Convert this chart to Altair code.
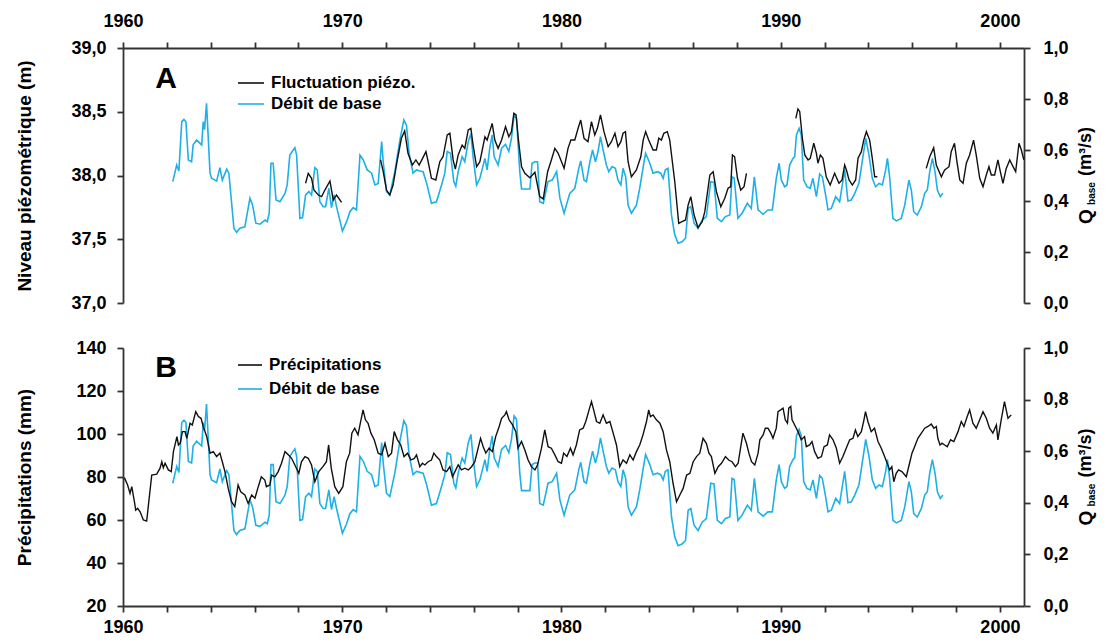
import altair as alt
import pandas as pd

# ---------------- data ----------------
# Débit de base Q_base (m3/s): (decimal year, value)
baseflow = [
    (1962.27, 0.476), (1962.45, 0.541), (1962.55, 0.518), (1962.68, 0.711), (1962.78, 0.72),
    (1962.87, 0.711), (1962.98, 0.561), (1963.13, 0.554), (1963.20, 0.620), (1963.36, 0.639),
    (1963.59, 0.620), (1963.66, 0.711), (1963.72, 0.680), (1963.81, 0.783), (1963.97, 0.509),
    (1964.04, 0.489), (1964.27, 0.478), (1964.42, 0.531), (1964.53, 0.482), (1964.73, 0.525),
    (1964.83, 0.509), (1965.06, 0.293), (1965.18, 0.277), (1965.33, 0.293), (1965.56, 0.299),
    (1965.79, 0.411), (1965.91, 0.384), (1966.06, 0.313), (1966.25, 0.309), (1966.48, 0.325),
    (1966.58, 0.319), (1966.67, 0.352), (1966.75, 0.548), (1966.85, 0.548), (1966.98, 0.404),
    (1967.16, 0.397), (1967.39, 0.430), (1967.49, 0.463), (1967.61, 0.580), (1967.84, 0.609),
    (1967.92, 0.580), (1968.07, 0.332), (1968.19, 0.335), (1968.33, 0.424), (1968.48, 0.437),
    (1968.60, 0.424), (1968.75, 0.531), (1968.86, 0.522), (1968.98, 0.397), (1969.13, 0.378),
    (1969.24, 0.378), (1969.39, 0.450), (1969.51, 0.374), (1969.63, 0.424), (1969.74, 0.378),
    (1970.01, 0.282), (1970.20, 0.319), (1970.35, 0.358), (1970.50, 0.374), (1970.65, 0.365),
    (1970.81, 0.580), (1970.96, 0.561), (1971.14, 0.522), (1971.34, 0.509), (1971.49, 0.463),
    (1971.64, 0.469), (1971.80, 0.633), (1971.87, 0.554), (1972.02, 0.437), (1972.17, 0.424),
    (1972.40, 0.515), (1972.63, 0.639), (1972.81, 0.718), (1972.93, 0.698), (1973.05, 0.587),
    (1973.23, 0.509), (1973.39, 0.522), (1973.54, 0.518), (1973.69, 0.515), (1973.85, 0.470),
    (1974.07, 0.391), (1974.30, 0.397), (1974.53, 0.463), (1974.68, 0.509), (1974.79, 0.594),
    (1974.94, 0.587), (1975.09, 0.476), (1975.18, 0.458), (1975.29, 0.515), (1975.47, 0.574),
    (1975.59, 0.554), (1975.75, 0.633), (1975.87, 0.665), (1975.97, 0.574), (1976.13, 0.463),
    (1976.28, 0.489), (1976.51, 0.567), (1976.61, 0.522), (1976.73, 0.607), (1976.84, 0.659),
    (1976.93, 0.574), (1977.11, 0.541), (1977.27, 0.607), (1977.45, 0.622), (1977.60, 0.594),
    (1977.72, 0.646), (1977.84, 0.737), (1977.95, 0.724), (1978.10, 0.515), (1978.18, 0.447),
    (1978.56, 0.447), (1978.66, 0.548), (1978.79, 0.554), (1978.91, 0.554), (1979.01, 0.397),
    (1979.17, 0.391), (1979.39, 0.476), (1979.58, 0.482), (1979.78, 0.515), (1979.93, 0.411),
    (1980.12, 0.352), (1980.38, 0.430), (1980.61, 0.450), (1980.79, 0.528), (1980.88, 0.557),
    (1981.03, 0.482), (1981.14, 0.476), (1981.30, 0.554), (1981.42, 0.600), (1981.55, 0.554),
    (1981.67, 0.594), (1981.78, 0.652), (1981.90, 0.600), (1982.05, 0.541), (1982.16, 0.515),
    (1982.31, 0.535), (1982.46, 0.528), (1982.58, 0.482), (1982.71, 0.463), (1982.81, 0.528),
    (1982.93, 0.495), (1983.04, 0.384), (1983.19, 0.352), (1983.42, 0.384), (1983.57, 0.450),
    (1983.77, 0.554), (1983.84, 0.587), (1984.03, 0.548), (1984.18, 0.509), (1984.38, 0.515),
    (1984.53, 0.509), (1984.64, 0.489), (1984.74, 0.522), (1984.86, 0.528), (1985.02, 0.345),
    (1985.17, 0.267), (1985.32, 0.234), (1985.50, 0.240), (1985.66, 0.254), (1985.78, 0.371),
    (1985.90, 0.378), (1986.05, 0.313), (1986.23, 0.293), (1986.42, 0.325), (1986.61, 0.339),
    (1986.81, 0.476), (1986.96, 0.473), (1987.11, 0.332), (1987.30, 0.319), (1987.48, 0.339),
    (1987.68, 0.345), (1987.78, 0.495), (1987.88, 0.490), (1988.05, 0.332), (1988.24, 0.352),
    (1988.48, 0.391), (1988.66, 0.371), (1988.80, 0.495), (1988.97, 0.365), (1989.20, 0.348),
    (1989.42, 0.365), (1989.62, 0.365), (1989.80, 0.489), (1989.93, 0.548), (1990.03, 0.482),
    (1990.18, 0.456), (1990.29, 0.463), (1990.41, 0.541), (1990.56, 0.567), (1990.64, 0.574),
    (1990.72, 0.659), (1990.84, 0.685), (1990.94, 0.659), (1991.05, 0.482), (1991.20, 0.456),
    (1991.35, 0.450), (1991.47, 0.489), (1991.63, 0.417), (1991.78, 0.506), (1991.90, 0.495),
    (1992.05, 0.424), (1992.16, 0.365), (1992.31, 0.371), (1992.51, 0.417), (1992.69, 0.397),
    (1992.92, 0.522), (1993.07, 0.400), (1993.22, 0.404), (1993.38, 0.430), (1993.57, 0.469),
    (1993.72, 0.554), (1993.88, 0.646), (1994.03, 0.580), (1994.18, 0.489), (1994.33, 0.456),
    (1994.49, 0.469), (1994.64, 0.463), (1994.79, 0.522), (1994.87, 0.567), (1994.97, 0.495),
    (1995.12, 0.332), (1995.28, 0.322), (1995.50, 0.332), (1995.66, 0.384), (1995.85, 0.482),
    (1995.96, 0.443), (1996.07, 0.358), (1996.23, 0.345), (1996.42, 0.378), (1996.57, 0.430),
    (1996.69, 0.443), (1996.80, 0.515), (1996.92, 0.567), (1997.04, 0.515), (1997.15, 0.443),
    (1997.28, 0.417), (1997.40, 0.430),
]

# Fluctuation piézométrique (m), four recorded periods
piezo_1968 = [
    (1968.33, 37.939), (1968.45, 38.017), (1968.60, 37.978), (1968.71, 37.886), (1968.91, 37.847),
    (1969.06, 37.834), (1969.21, 37.886), (1969.44, 37.957), (1969.59, 37.808), (1969.74, 37.847),
    (1969.97, 37.790),
]
piezo_1971 = [
    (1971.75, 38.122), (1971.87, 38.030), (1972.02, 37.886), (1972.17, 37.847), (1972.32, 37.925),
    (1972.50, 38.108), (1972.70, 38.292), (1972.85, 38.349), (1973.00, 38.174), (1973.20, 38.082),
    (1973.36, 38.122), (1973.51, 38.082), (1973.82, 38.187), (1973.92, 38.108), (1974.07, 37.978),
    (1974.27, 37.965), (1974.45, 38.108), (1974.60, 38.147), (1974.79, 38.318), (1974.91, 38.331),
    (1975.06, 38.122), (1975.16, 38.050), (1975.29, 38.161), (1975.47, 38.239), (1975.59, 38.213),
    (1975.75, 38.357), (1975.87, 38.370), (1975.97, 38.239), (1976.13, 38.069), (1976.28, 38.108),
    (1976.51, 38.304), (1976.61, 38.278), (1976.84, 38.409), (1976.96, 38.278), (1977.11, 38.213),
    (1977.27, 38.278), (1977.45, 38.383), (1977.60, 38.304), (1977.72, 38.344), (1977.83, 38.488),
    (1977.93, 38.475), (1978.03, 38.292), (1978.18, 38.069), (1978.33, 38.017), (1978.56, 37.983),
    (1978.79, 38.025), (1979.01, 37.834), (1979.17, 37.816), (1979.37, 38.030), (1979.54, 38.122),
    (1979.70, 38.213), (1979.85, 38.174), (1980.12, 38.056), (1980.30, 38.213), (1980.43, 38.278),
    (1980.61, 38.278), (1980.76, 38.370), (1980.88, 38.435), (1981.03, 38.292), (1981.21, 38.265),
    (1981.37, 38.422), (1981.52, 38.318), (1981.64, 38.370), (1981.78, 38.475), (1981.94, 38.344),
    (1982.13, 38.226), (1982.28, 38.265), (1982.44, 38.331), (1982.58, 38.226), (1982.71, 38.265),
    (1982.81, 38.331), (1982.92, 38.344), (1983.04, 38.108), (1983.19, 37.990), (1983.42, 38.043),
    (1983.62, 38.147), (1983.73, 38.278), (1983.84, 38.344), (1983.98, 38.278), (1984.18, 38.200),
    (1984.33, 38.200), (1984.44, 38.292), (1984.56, 38.278), (1984.67, 38.331), (1984.83, 38.344),
    (1984.94, 38.278), (1985.17, 37.951), (1985.35, 37.625), (1985.50, 37.638), (1985.66, 37.651),
    (1985.78, 37.769), (1985.90, 37.834), (1986.05, 37.690), (1986.23, 37.591), (1986.42, 37.638),
    (1986.54, 37.716), (1986.77, 38.004), (1986.92, 38.030), (1987.07, 37.873), (1987.27, 37.755),
    (1987.45, 37.821), (1987.60, 37.900), (1987.72, 37.912), (1987.80, 38.161), (1987.90, 38.147),
    (1988.03, 37.978), (1988.18, 37.886), (1988.33, 37.912), (1988.44, 38.017),
]
piezo_1990 = [
    (1990.69, 38.448), (1990.79, 38.522), (1990.87, 38.500), (1990.99, 38.292), (1991.10, 38.161),
    (1991.25, 38.122), (1991.35, 38.135), (1991.51, 38.253), (1991.63, 38.174), (1991.70, 38.096),
    (1991.81, 38.161), (1991.93, 38.135), (1992.08, 37.990), (1992.26, 37.925), (1992.46, 38.017),
    (1992.66, 37.939), (1992.80, 37.965), (1992.92, 38.082), (1993.00, 38.043), (1993.12, 37.965),
    (1993.27, 37.925), (1993.42, 37.965), (1993.53, 38.135), (1993.68, 38.187), (1993.79, 38.278),
    (1993.91, 38.344), (1994.06, 38.278), (1994.18, 38.135), (1994.29, 37.990), (1994.41, 37.990),
]
piezo_1996 = [
    (1996.64, 38.056), (1996.80, 38.147), (1996.98, 38.218), (1997.10, 38.082), (1997.33, 37.990),
    (1997.48, 38.043), (1997.68, 38.069), (1997.78, 38.187), (1997.93, 38.253), (1998.04, 38.108),
    (1998.17, 37.965), (1998.32, 37.939), (1998.47, 38.096), (1998.62, 38.161), (1998.80, 38.278),
    (1998.92, 38.161), (1999.08, 37.978), (1999.23, 37.912), (1999.38, 38.004), (1999.50, 38.069),
    (1999.61, 38.004), (1999.76, 38.004), (1999.91, 38.122), (2000.02, 38.030), (2000.14, 37.939),
    (2000.29, 38.056), (2000.45, 38.122), (2000.60, 38.069), (2000.72, 38.030), (2000.87, 38.253),
    (2000.98, 38.200), (2001.09, 38.122),
]

# Précipitations (mm)
precipitation = [
    (1960.06, 79.7), (1960.21, 76.3), (1960.32, 72.4), (1960.40, 75.5), (1960.52, 68.5),
    (1960.58, 64.6), (1960.67, 65.4), (1960.78, 63.8), (1960.93, 60.0), (1961.08, 59.5),
    (1961.16, 66.9), (1961.31, 80.9), (1961.54, 81.3), (1961.69, 84.1), (1961.77, 87.1),
    (1961.84, 84.3), (1961.92, 86.4), (1962.07, 83.3), (1962.20, 82.5), (1962.30, 91.8),
    (1962.46, 98.8), (1962.53, 94.9), (1962.61, 95.7), (1962.71, 101.1), (1962.83, 101.1),
    (1962.91, 98.0), (1963.06, 105.0), (1963.16, 104.2), (1963.32, 110.4), (1963.44, 108.1),
    (1963.56, 107.3), (1963.66, 103.5), (1963.82, 98.8), (1963.97, 91.1), (1964.12, 91.8),
    (1964.27, 89.5), (1964.42, 91.1), (1964.53, 87.1), (1964.65, 82.5), (1964.80, 74.7),
    (1964.95, 68.5), (1965.10, 66.2), (1965.25, 76.3), (1965.37, 73.1), (1965.56, 71.6),
    (1965.71, 67.7), (1965.87, 71.6), (1966.02, 70.1), (1966.17, 75.5), (1966.31, 80.1),
    (1966.47, 78.6), (1966.54, 75.5), (1966.70, 76.3), (1966.78, 80.9), (1966.93, 80.1),
    (1967.08, 82.5), (1967.23, 86.4), (1967.39, 91.8), (1967.54, 90.3), (1967.69, 88.7),
    (1967.84, 85.6), (1968.02, 81.7), (1968.14, 87.1), (1968.30, 89.5), (1968.45, 88.7),
    (1968.60, 85.6), (1968.75, 77.8), (1968.93, 82.5), (1969.12, 84.8), (1969.28, 87.1),
    (1969.38, 94.9), (1969.50, 84.1), (1969.66, 75.5), (1969.84, 72.4), (1970.03, 75.5),
    (1970.19, 87.1), (1970.34, 91.1), (1970.44, 100.4), (1970.57, 102.7), (1970.72, 99.6),
    (1970.84, 105.8), (1970.95, 111.2), (1971.06, 106.6), (1971.18, 105.0), (1971.31, 100.4),
    (1971.46, 97.3), (1971.64, 91.1), (1971.80, 90.3), (1971.95, 95.7), (1972.10, 89.5),
    (1972.25, 91.1), (1972.37, 101.1), (1972.52, 97.3), (1972.67, 94.9), (1972.82, 89.5),
    (1972.98, 91.1), (1973.13, 88.0), (1973.28, 88.5), (1973.39, 90.3), (1973.54, 84.8),
    (1973.66, 86.4), (1973.77, 85.6), (1973.92, 87.1), (1974.07, 87.9), (1974.18, 91.1),
    (1974.30, 89.5), (1974.45, 87.9), (1974.60, 83.3), (1974.76, 82.5), (1974.91, 84.8),
    (1975.03, 80.1), (1975.18, 83.3), (1975.29, 85.6), (1975.44, 83.3), (1975.59, 84.1),
    (1975.75, 83.3), (1975.90, 84.8), (1976.05, 87.1), (1976.20, 93.4), (1976.31, 98.0),
    (1976.43, 94.1), (1976.55, 91.1), (1976.70, 93.4), (1976.85, 91.8), (1977.00, 98.8),
    (1977.16, 103.5), (1977.27, 107.3), (1977.42, 108.9), (1977.49, 110.4), (1977.61, 106.6),
    (1977.77, 104.2), (1977.92, 101.1), (1978.02, 93.4), (1978.18, 96.5), (1978.33, 92.6),
    (1978.48, 87.9), (1978.63, 84.8), (1978.79, 83.3), (1978.91, 85.6), (1979.09, 93.4),
    (1979.24, 101.9), (1979.39, 94.1), (1979.54, 93.4), (1979.70, 90.3), (1979.85, 87.1),
    (1980.00, 86.4), (1980.10, 91.1), (1980.25, 89.5), (1980.41, 93.4), (1980.53, 90.3),
    (1980.68, 94.9), (1980.83, 101.9), (1980.99, 102.7), (1981.11, 105.8), (1981.26, 111.2),
    (1981.37, 115.1), (1981.47, 111.2), (1981.60, 105.8), (1981.75, 105.0), (1981.90, 108.9),
    (1982.05, 105.0), (1982.21, 105.8), (1982.36, 100.4), (1982.51, 94.9), (1982.66, 84.8),
    (1982.81, 87.9), (1982.97, 86.4), (1983.12, 90.3), (1983.27, 87.9), (1983.42, 91.8),
    (1983.57, 94.9), (1983.72, 99.6), (1983.88, 105.8), (1983.98, 111.2), (1984.06, 108.1),
    (1984.18, 108.9), (1984.33, 106.6), (1984.49, 105.0), (1984.64, 101.1), (1984.79, 92.6),
    (1984.94, 87.1), (1985.09, 77.1), (1985.25, 68.5), (1985.40, 71.6), (1985.55, 74.7),
    (1985.71, 80.9), (1985.86, 81.7), (1986.01, 87.1), (1986.16, 89.5), (1986.31, 91.1),
    (1986.46, 98.0), (1986.61, 95.7), (1986.73, 91.1), (1986.84, 89.5), (1987.00, 81.7),
    (1987.15, 84.8), (1987.30, 86.4), (1987.48, 89.5), (1987.63, 87.9), (1987.78, 87.1),
    (1987.94, 84.8), (1988.06, 86.4), (1988.18, 94.1), (1988.28, 100.4), (1988.44, 95.7),
    (1988.55, 91.1), (1988.67, 87.1), (1988.82, 85.6), (1988.97, 91.1), (1989.05, 97.3),
    (1989.20, 99.6), (1989.30, 102.7), (1989.42, 102.7), (1989.55, 100.4), (1989.65, 98.0),
    (1989.80, 102.7), (1989.88, 110.4), (1990.00, 111.2), (1990.11, 112.0), (1990.21, 106.6),
    (1990.31, 105.0), (1990.37, 112.0), (1990.46, 112.8), (1990.52, 106.6), (1990.64, 104.2),
    (1990.79, 101.1), (1990.94, 97.3), (1991.09, 98.8), (1991.17, 94.1), (1991.32, 94.9),
    (1991.43, 96.5), (1991.55, 91.8), (1991.70, 88.7), (1991.86, 89.5), (1991.98, 94.1),
    (1992.13, 94.9), (1992.23, 99.6), (1992.39, 97.3), (1992.54, 93.4), (1992.69, 86.4),
    (1992.84, 89.5), (1992.99, 93.4), (1993.15, 97.3), (1993.30, 98.0), (1993.41, 101.9),
    (1993.52, 98.8), (1993.68, 101.1), (1993.80, 106.6), (1993.87, 110.4), (1993.98, 105.8),
    (1994.13, 101.1), (1994.28, 102.7), (1994.44, 96.5), (1994.59, 93.4), (1994.74, 89.5),
    (1994.86, 86.4), (1994.97, 83.3), (1995.07, 84.8), (1995.16, 77.8), (1995.27, 81.7),
    (1995.38, 83.3), (1995.53, 82.5), (1995.73, 80.1), (1995.88, 86.4), (1995.99, 91.1),
    (1996.11, 94.1), (1996.26, 98.0), (1996.42, 100.4), (1996.57, 102.7), (1996.72, 103.5),
    (1996.87, 104.6), (1996.99, 102.7), (1997.10, 103.5), (1997.17, 98.0), (1997.27, 94.9),
    (1997.36, 95.7), (1997.48, 94.9), (1997.60, 94.1), (1997.75, 97.3), (1997.90, 96.5),
    (1998.09, 101.1), (1998.24, 105.8), (1998.36, 103.5), (1998.51, 108.1), (1998.62, 111.2),
    (1998.77, 105.0), (1998.92, 102.7), (1999.08, 106.6), (1999.23, 110.4), (1999.38, 107.3),
    (1999.53, 102.7), (1999.68, 100.4), (1999.84, 104.2), (1999.91, 97.3), (2000.06, 106.6),
    (2000.21, 115.1), (2000.37, 107.3), (2000.52, 108.9),
]

year_ticks = list(range(1960, 2001, 2))
level_ticks = [37.0, 37.5, 38.0, 38.5, 39.0]
precip_ticks = [20, 40, 60, 80, 100, 120, 140]
q_ticks = [0.0, 0.2, 0.4, 0.6, 0.8, 1.0]
legend_a = ["Fluctuation piézo.", "Débit de base"]
legend_b = ["Précipitations", "Débit de base"]

# ---------------- tables ----------------
q_df = pd.DataFrame(baseflow, columns=["year", "q"])
piezo_parts = []
for seg, pts in enumerate([piezo_1968, piezo_1971, piezo_1990, piezo_1996]):
    d = pd.DataFrame(pts, columns=["year", "level"])
    d["seg"] = seg
    piezo_parts.append(d)
piezo_df = pd.concat(piezo_parts, ignore_index=True)
precip_df = pd.DataFrame(precipitation, columns=["year", "mm"])

# ---------------- styling ----------------
FONT = "Liberation Sans"
BLUE = "#1eb0e6"
BLACK = "#111111"
AXC = "#333333"
W, H = 901, 558
A_RANGE = [255, 0]      # panel A occupies the upper part of the plot area
B_RANGE = [558, 300]    # panel B occupies the lower part
X_DOMAIN = [1960, 2001.1]

comma1 = "replace(format(datum.value, '.1f'), '.', ',')"
year_label = "datum.value % 10 == 0 ? datum.label : ''"


def xscale():
    return alt.Scale(domain=X_DOMAIN, nice=False, zero=False)


x_top_axis = alt.Axis(orient="top", values=year_ticks, format="d", labelExpr=year_label,
                      labelPadding=12, labelFlush=False, labelOverlap=False, title=None)
x_bot_axis = alt.Axis(orient="bottom", values=year_ticks, format="d", labelExpr=year_label,
                      labelPadding=6, labelFlush=False, labelOverlap=False, title=None)

q_top = alt.Chart(q_df).mark_line(color=BLUE, strokeWidth=1.6).encode(
    x=alt.X("year:Q", scale=xscale(), axis=None),
    y=alt.Y("q:Q", scale=alt.Scale(domain=[0, 1], range=A_RANGE, nice=False, zero=False),
            axis=alt.Axis(orient="right", values=q_ticks, labelExpr=comma1, labelPadding=13,
                          title=None)),
)

piezo = alt.Chart(piezo_df).mark_line(color=BLACK, strokeWidth=1.4).encode(
    x=alt.X("year:Q", scale=xscale(), axis=x_top_axis),
    y=alt.Y("level:Q", scale=alt.Scale(domain=[37, 39], range=A_RANGE, nice=False, zero=False),
            axis=alt.Axis(orient="left", values=level_ticks, labelExpr=comma1, labelPadding=11,
                          title="Niveau piézométrique (m)", titleX=-99, titleY=127.5,
                          titleAngle=270, titleAlign="center", titleBaseline="middle")),
    detail="seg:N",
)

q_bot = alt.Chart(q_df).mark_line(color=BLUE, strokeWidth=1.6).encode(
    x=alt.X("year:Q", scale=xscale(), axis=None),
    y=alt.Y("q:Q", scale=alt.Scale(domain=[0, 1], range=B_RANGE, nice=False, zero=False),
            axis=alt.Axis(orient="right", values=q_ticks, labelExpr=comma1, labelPadding=13,
                          title=None)),
)

precip = alt.Chart(precip_df).mark_line(color=BLACK, strokeWidth=1.4).encode(
    x=alt.X("year:Q", scale=xscale(), axis=x_bot_axis),
    y=alt.Y("mm:Q", scale=alt.Scale(domain=[20, 140], range=B_RANGE, nice=False, zero=False),
            axis=alt.Axis(orient="left", values=precip_ticks, format="d", labelPadding=11,
                          title="Précipitations (mm)", titleX=-99, titleY=429,
                          titleAngle=270, titleAlign="center", titleBaseline="middle")),
)

one = pd.DataFrame({"k": [0]})


def text(t, x, y, size, align="left", angle=0):
    return alt.Chart(one).mark_text(
        text=t, font=FONT, fontWeight="bold", fontSize=size, align=align,
        baseline="middle", angle=angle, color="#000000",
    ).encode(x=alt.value(x), y=alt.value(y))


def legend_line(color, x1, x2, y):
    return alt.Chart(one).mark_rule(color=color, strokeWidth=1.6).encode(
        x=alt.value(x1), x2=alt.value(x2), y=alt.value(y))


annotations = [
    text("A", 43, 31, 30, align="center"),
    legend_line(BLACK, 115, 141, 35), text(legend_a[0], 148, 35, 17),
    legend_line(BLUE, 115, 141, 56), text(legend_a[1], 148, 56, 17),
    text("B", 43, 320, 30, align="center"),
    legend_line(BLACK, 115, 139, 317), text(legend_b[0], 146, 317, 17),
    legend_line(BLUE, 115, 139, 341), text(legend_b[1], 146, 341, 17),
]
# right-hand axis titles "Q_base (m3/s)" with subscript
for c in (127.5, 429):
    annotations += [
        text("Q", 963, c + 41, 19, align="center", angle=270),
        text("base", 969, c + 18, 10, align="center", angle=270),
        text("(m³/s)", 963, c - 24, 18, align="center", angle=270),
    ]

chart = alt.layer(q_top, piezo, q_bot, precip, *annotations).resolve_scale(
    x="independent", y="independent"
).resolve_axis(
    x="independent", y="independent"
).properties(
    width=W, height=H,
    autosize=alt.AutoSizeParams(type="none"),
    padding={"left": 115, "top": 40, "right": 74, "bottom": 29},
).configure_view(
    stroke="transparent"
).configure_axis(
    labelFont=FONT, titleFont=FONT, labelFontWeight="bold", titleFontWeight="bold",
    labelFontSize=18, titleFontSize=19, labelColor="#000000", titleColor="#000000",
    domainColor=AXC, tickColor=AXC, domainWidth=1.8, tickWidth=1.8, tickSize=6, grid=False,
)

chart.save("out.html", embed_options={"renderer": "svg", "actions": False})
